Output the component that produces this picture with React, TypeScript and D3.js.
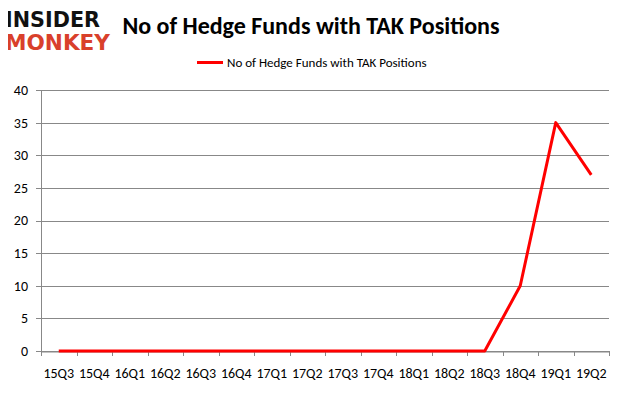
import React, { useEffect, useRef } from "react";
import * as d3 from "d3";

const quarters = ["15Q3", "15Q4", "16Q1", "16Q2", "16Q3", "16Q4", "17Q1", "17Q2", "17Q3", "17Q4", "18Q1", "18Q2", "18Q3", "18Q4", "19Q1", "19Q2"];
const funds = [0, 0, 0, 0, 0, 0, 0, 0, 0, 0, 0, 0, 0, 10, 35, 27];
const yTicks = [0, 5, 10, 15, 20, 25, 30, 35, 40];
const seriesName = "No of Hedge Funds with TAK Positions";

const W = 626;
const H = 397;
const margin = { top: 90, right: 17, bottom: 46, left: 41 };
const font = "Calibri, Carlito, 'Liberation Sans', Arial, sans-serif";

const App = () => {
  const ref = useRef<SVGSVGElement>(null);

  useEffect(() => {
    const svg = d3.select(ref.current);
    svg.selectAll("*").remove();

    svg.append("rect")
      .attr("x", 0.5).attr("y", 0.5)
      .attr("width", W - 1).attr("height", H - 1)
      .attr("fill", "white").attr("stroke", "#888");

    const x = d3.scaleBand().domain(quarters).range([margin.left, W - margin.right]);
    const y = d3.scaleLinear().domain([0, 40]).range([H - margin.bottom, margin.top]);

    // gridlines
    svg.append("g")
      .selectAll("line")
      .data(yTicks)
      .join("line")
      .attr("x1", margin.left - 5)
      .attr("x2", W - margin.right)
      .attr("y1", (d) => Math.round(y(d)) + 0.5)
      .attr("y2", (d) => Math.round(y(d)) + 0.5)
      .attr("stroke", "#888");

    svg.append("g")
      .selectAll("text")
      .data(yTicks)
      .join("text")
      .attr("x", 28)
      .attr("y", (d) => y(d))
      .attr("dy", "0.35em")
      .attr("text-anchor", "end")
      .attr("font-family", font)
      .attr("font-size", 14)
      .attr("fill", "#000")
      .text((d) => d);

    // axes lines
    svg.append("line")
      .attr("x1", margin.left + 0.5).attr("x2", margin.left + 0.5)
      .attr("y1", y(40)).attr("y2", y(0))
      .attr("stroke", "#888");

    const xAxis = svg.append("g")
      .attr("transform", `translate(0,${Math.round(y(0)) + 0.5})`)
      .call(d3.axisBottom(x).tickSize(0).tickFormat(() => ""));
    xAxis.select(".domain").attr("stroke", "#888");

    const bounds = quarters.map((q) => x(q) as number).concat([W - margin.right]);
    svg.append("g")
      .selectAll("line")
      .data(bounds)
      .join("line")
      .attr("x1", (d) => Math.round(d) + 0.5)
      .attr("x2", (d) => Math.round(d) + 0.5)
      .attr("y1", y(0))
      .attr("y2", y(0) + 5)
      .attr("stroke", "#888");

    svg.append("g")
      .selectAll("text")
      .data(quarters)
      .join("text")
      .attr("x", (d) => (x(d) as number) + x.bandwidth() / 2)
      .attr("y", 378)
      .attr("text-anchor", "middle")
      .attr("font-family", font)
      .attr("font-size", 14)
      .attr("fill", "#000")
      .text((d) => d);

    // series
    svg.append("path")
      .datum(funds)
      .attr("fill", "none")
      .attr("stroke", "#ff0000")
      .attr("stroke-width", 3)
      .attr("stroke-linejoin", "round")
      .attr("d", d3.line<number>()
        .x((d, i) => (x(quarters[i]) as number) + x.bandwidth() / 2)
        .y((d) => y(d)));

    // title
    svg.append("text")
      .attr("x", 311).attr("y", 34)
      .attr("text-anchor", "middle")
      .attr("font-family", font)
      .attr("font-weight", "bold")
      .attr("font-size", 24)
      .attr("fill", "#000")
      .text(seriesName);

    // legend
    svg.append("line")
      .attr("x1", 197).attr("x2", 223)
      .attr("y1", 62.5).attr("y2", 62.5)
      .attr("stroke", "#ff0000").attr("stroke-width", 3);
    svg.append("text")
      .attr("x", 227).attr("y", 62)
      .attr("dy", "0.35em")
      .attr("font-family", font)
      .attr("font-size", 13)
      .attr("fill", "#000")
      .text(seriesName);

    // logo
    svg.append("text")
      .attr("x", 5).attr("y", 27)
      .attr("font-family", "'DejaVu Sans', sans-serif")
      .attr("font-weight", "bold")
      .attr("font-size", 22)
      .attr("textLength", 95)
      .attr("lengthAdjust", "spacingAndGlyphs")
      .attr("fill", "#111")
      .text("INSIDER");
    svg.append("text")
      .attr("x", 5).attr("y", 50)
      .attr("font-family", "'DejaVu Sans', sans-serif")
      .attr("font-weight", "bold")
      .attr("font-size", 22)
      .attr("textLength", 105)
      .attr("lengthAdjust", "spacingAndGlyphs")
      .attr("fill", "#d9402b")
      .text("MONKEY");
  }, []);

  return <svg ref={ref} width={W} height={H} style={{ display: "block", margin: -8 }} />;
};

export default App;
